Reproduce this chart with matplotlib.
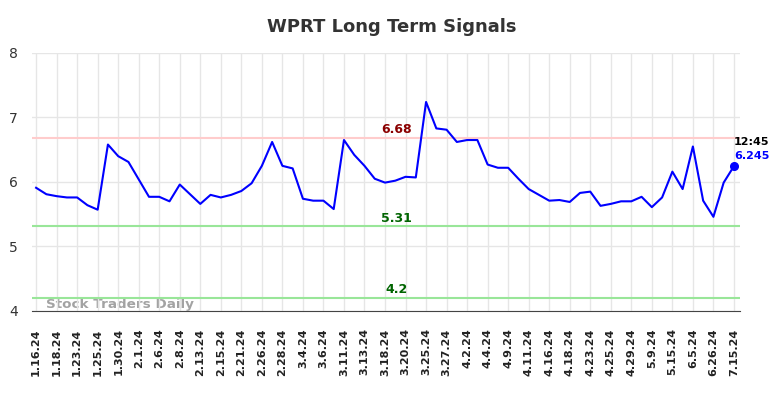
import matplotlib
matplotlib.use("Agg")
import matplotlib.pyplot as plt

# signal values, one per trading session shown
values = [5.91, 5.81, 5.78, 5.76, 5.76, 5.64, 5.57, 6.58, 6.40, 6.31,
          6.04, 5.77, 5.77, 5.70, 5.96, 5.81, 5.66, 5.80, 5.76, 5.80,
          5.86, 5.98, 6.25, 6.62, 6.25, 6.21, 5.74, 5.71, 5.71, 5.58,
          6.65, 6.42, 6.25, 6.05, 5.99, 6.02, 6.08, 6.07, 7.24, 6.83,
          6.81, 6.62, 6.65, 6.65, 6.27, 6.22, 6.22, 6.05, 5.89, 5.80,
          5.71, 5.72, 5.69, 5.83, 5.85, 5.63, 5.66, 5.70, 5.70, 5.77,
          5.61, 5.76, 6.16, 5.89, 6.55, 5.71, 5.46, 5.99, 6.245]

tick_labels = ["1.16.24", "1.18.24", "1.23.24", "1.25.24", "1.30.24", "2.1.24",
               "2.6.24", "2.8.24", "2.13.24", "2.15.24", "2.21.24", "2.26.24",
               "2.28.24", "3.4.24", "3.6.24", "3.11.24", "3.13.24", "3.18.24",
               "3.20.24", "3.25.24", "3.27.24", "4.2.24", "4.4.24", "4.9.24",
               "4.11.24", "4.16.24", "4.18.24", "4.23.24", "4.25.24", "4.29.24",
               "5.9.24", "5.15.24", "6.5.24", "6.26.24", "7.15.24"]

resistance = 6.68
support = 5.31
low_support = 4.2
last_time = "12:45"

fig = plt.figure(figsize=(7.84, 3.98), dpi=100)
ax = fig.add_axes([0.0408, 0.2186, 0.9032, 0.6484])

x = list(range(len(values)))
ax.plot(x, values, color="blue", linewidth=1.5, zorder=3)
ax.plot(x[-1], values[-1], "o", color="blue", markersize=5.5, zorder=4)

ax.axhline(resistance, color="#ffcccc", linewidth=1.5, zorder=2)
ax.axhline(support, color="#99e699", linewidth=1.5, zorder=2)
ax.axhline(low_support, color="#99e699", linewidth=1.5, zorder=2)

mid = 35.1
ax.text(mid, resistance + 0.03, f"{resistance:.2f}", color="#8b0000", fontsize=9,
        fontweight="bold", ha="center", va="bottom", zorder=5)
ax.text(mid, support + 0.03, f"{support:.2f}", color="#006400", fontsize=9,
        fontweight="bold", ha="center", va="bottom", zorder=5)
ax.text(mid, low_support + 0.03, f"{low_support}", color="#006400", fontsize=9,
        fontweight="bold", ha="center", va="bottom", zorder=5)

ax.text(x[-1], values[-1] + 0.37, last_time, color="black", fontsize=8,
        fontweight="bold", ha="left", va="center")
ax.text(x[-1], values[-1] + 0.155, f"{values[-1]}", color="blue", fontsize=8,
        fontweight="bold", ha="left", va="center")

ax.text(1.0, 4.0, "Stock Traders Daily", color="#999999", fontsize=9.7,
        fontweight="bold", ha="left", va="bottom", alpha=0.9, zorder=1)

ax.set_xlim(-0.4, len(values) - 1 + 0.6)
ax.set_ylim(4, 8)
ax.set_yticks([4, 5, 6, 7, 8])
ax.set_xticks(x[::2])
ax.set_xticklabels(tick_labels, rotation=90, fontsize=8, fontweight="bold",
                   color="#222222")
ax.tick_params(axis="both", length=0)
ax.tick_params(axis="y", labelsize=10, colors="#333333", pad=10)
ax.tick_params(axis="x", pad=12.5)

ax.grid(True, color="#e6e6e6", linewidth=1, zorder=0)
for side in ["top", "right", "left"]:
    ax.spines[side].set_visible(False)
ax.spines["bottom"].set_color("#444444")

fig.suptitle("WPRT Long Term Signals", x=0.5, y=0.955, fontsize=13,
             fontweight="bold", color="#333333")

fig.savefig("out.png", dpi=100)
